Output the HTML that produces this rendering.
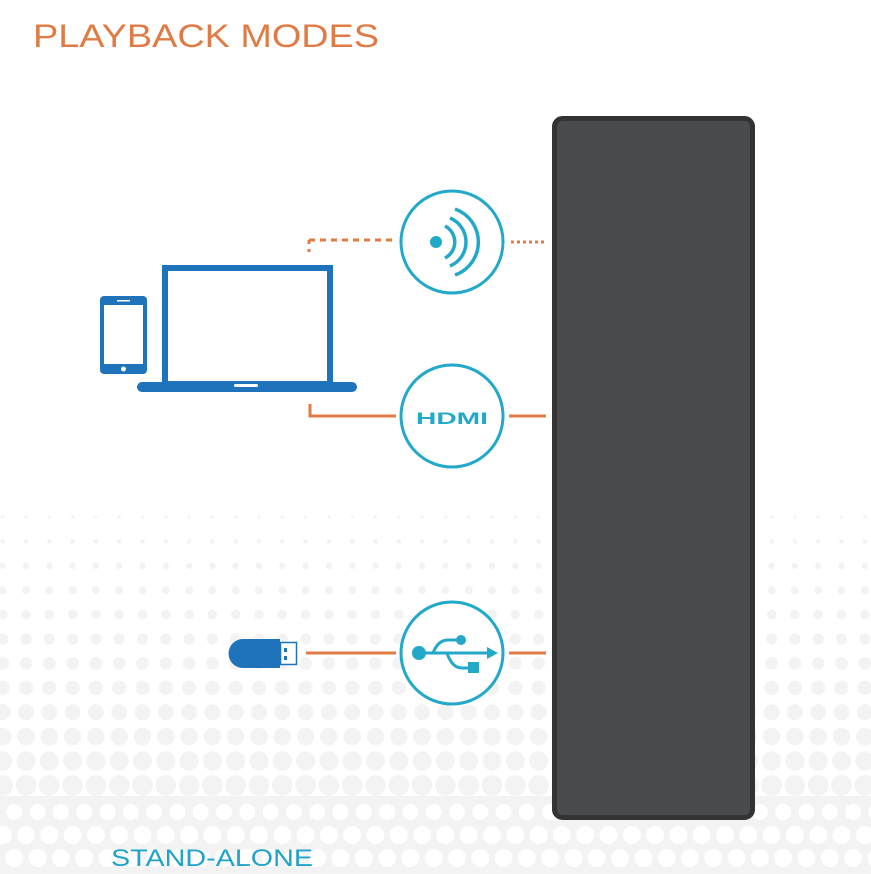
<!DOCTYPE html>
<html><head><meta charset="utf-8"><style>html,body{margin:0;padding:0;background:#fff}svg{display:block}</style></head>
<body>
<svg id="s" width="871" height="874" viewBox="0 0 871 874" xmlns="http://www.w3.org/2000/svg">
<g id="dots" fill="#f3f3f3"></g>
<text x="33" y="47" font-family="Liberation Sans, sans-serif" font-size="32" fill="#e07b45" textLength="346" lengthAdjust="spacingAndGlyphs">PLAYBACK MODES</text>
<text x="111" y="866" font-family="Liberation Sans, sans-serif" font-size="24" fill="#22a3c9" textLength="202" lengthAdjust="spacingAndGlyphs">STAND-ALONE</text>
<!-- speaker -->
<rect x="554.5" y="118.5" width="198" height="699" rx="8" fill="#4a4b4d" stroke="#333" stroke-width="5"/>
<!-- connectors -->
<g stroke="#e07b45" stroke-width="3" fill="none">
<path d="M309 240 H396" stroke-dasharray="6 5"/>
<path d="M309 240 V252" stroke-dasharray="4 5"/>
<path d="M511 242 H546" stroke-dasharray="3 3"/>
<path d="M310 404 V416 H396"/>
<path d="M509 416 H546"/>
<path d="M306 653 H396"/>
<path d="M509 653 H546"/>
</g>
<!-- circles -->
<g stroke="#22a8c9" stroke-width="3" fill="#fff">
<circle cx="452" cy="242" r="51"/>
<circle cx="452" cy="416" r="51"/>
<circle cx="452" cy="653" r="51"/>
</g>
<!-- wifi -->
<circle cx="436" cy="242" r="6" fill="#22a8c9"/>
<g stroke="#22a8c9" stroke-width="3.5" fill="none">
<path d="M445 226 A18 18 0 0 1 445 258"/>
<path d="M450 218 A26 26 0 0 1 450 266"/>
<path d="M455 209 A35 35 0 0 1 455 275"/>
</g>
<text x="416" y="424" font-family="Liberation Sans, sans-serif" font-weight="bold" font-size="17" fill="#22a8c9" textLength="72" lengthAdjust="spacingAndGlyphs">HDMI</text>
<!-- usb -->
<g fill="#22a8c9" stroke="#22a8c9">
<circle cx="419" cy="653" r="7" stroke="none"/>
<path d="M422 653 H490" stroke-width="3" fill="none"/>
<path d="M487 647 L498 653 L487 659 Z" stroke="none"/>
<path d="M433 653 Q438 640 448 640 H458" stroke-width="3" fill="none"/>
<circle cx="461" cy="640" r="5" stroke="none"/>
<path d="M447 653 Q452 668 462 668 H470" stroke-width="3" fill="none"/>
<rect x="468" y="662" width="11" height="11" stroke="none"/>
</g>
<!-- laptop -->
<rect x="165" y="268" width="165" height="116" fill="none" stroke="#1f73bb" stroke-width="6"/>
<rect x="137" y="382" width="220" height="10" rx="5" fill="#1f73bb"/>
<rect x="234" y="384" width="24" height="3" rx="1.5" fill="#fff"/>
<!-- phone -->
<rect x="100" y="296" width="47" height="78" rx="4" fill="#1f73bb"/>
<rect x="104" y="305" width="39" height="59" fill="#fff"/>
<rect x="117" y="300" width="13" height="1.5" fill="#fff"/>
<circle cx="123.5" cy="369" r="2.5" fill="#fff"/>
<!-- usb stick -->
<path d="M243 639 H280 V668 H243 A14.5 14.5 0 0 1 243 639 Z" fill="#1f73bb"/>
<rect x="280.5" y="642.5" width="16" height="22" fill="#fff" stroke="#1f73bb" stroke-width="1.5"/>
<rect x="284" y="648" width="3" height="4" fill="#1f73bb"/>
<rect x="284" y="656" width="3" height="4" fill="#1f73bb"/>
</svg>
<script>
(function(){
var g=document.getElementById('dots');var ns='http://www.w3.org/2000/svg';var h='';
for(var k=0;k<12;k++){var y=517+24.4*k;var r=1.6+0.8*k;
 for(var x=2.7;x<880;x+=23.3){h+='<circle cx="'+x.toFixed(1)+'" cy="'+y.toFixed(1)+'" r="'+r.toFixed(1)+'"/>';}}
h+='<rect x="0" y="796" width="871" height="78"/>';
var rows=[[812,11.6,8],[835,0,9],[858,11.6,9]];
rows.forEach(function(rw){for(var x=2.7+rw[1];x<880;x+=23.3){h+='<circle cx="'+x.toFixed(1)+'" cy="'+rw[0]+'" r="'+rw[2]+'" fill="#fff"/>';}});
g.innerHTML=h;
// keep speaker area clean
})();
</script>
</body></html>
